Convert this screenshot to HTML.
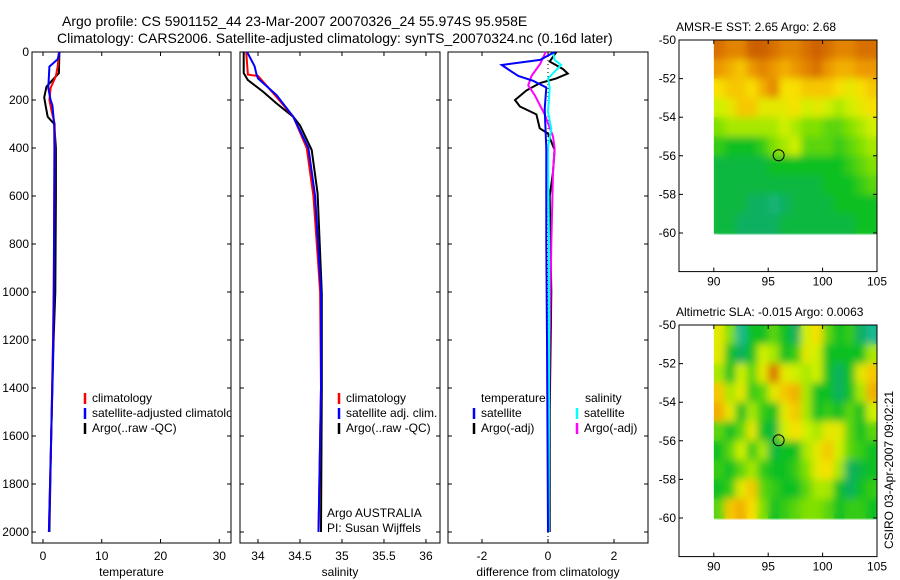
<!DOCTYPE html>
<html><head><meta charset="utf-8">
<style>
html,body{margin:0;padding:0;background:#fff;}
svg{display:block;font-family:"Liberation Sans",sans-serif;}
</style></head>
<body>
<svg id="chart" width="900" height="580" viewBox="0 0 900 580">
<defs>
<filter id="blur" x="-5%" y="-5%" width="110%" height="110%"><feGaussianBlur stdDeviation="4"/></filter>
</defs>
<text x="62" y="26" font-size="14">Argo profile: CS 5901152_44 23-Mar-2007 20070326_24 55.974S 95.958E</text>
<text x="57" y="43" font-size="14">Climatology: CARS2006. Satellite-adjusted climatology: synTS_20070324.nc (0.16d later)</text>
<text x="676" y="31" font-size="12">AMSR-E SST: 2.65 Argo: 2.68</text>
<text x="676" y="316" font-size="12">Altimetric SLA: -0.015 Argo: 0.0063</text>
<text transform="translate(893,549) rotate(-90)" x="0" y="0" font-size="12">CSIRO 03-Apr-2007 09:02:21</text>
<g id="g"></g>
</svg>
<script>
// ---- data ----
const depthTicks=[0,200,400,600,800,1000,1200,1400,1600,1800,2000];
const tempTicks=[0,10,20,30];
const salTicks=[34,34.5,35,35.5,36];
const salTickLabels=["34","34.5","35","35.5","36"];
const diffTicks=[-2,0,2];
const mapXTicks=[90,95,100,105];
const mapYTicks=[-50,-52,-54,-56,-58,-60];

const tClimD=[0,60,100,150,200,250,300,400,600,1000,1200,1600,2000];
const tClimV=[2.7,2.5,2.2,1.3,1.1,1.5,2.0,2.0,1.95,1.8,1.7,1.4,1.0];
const tSatD=[0,30,61,150,200,222,300,400,600,1000,1200,1600,2000];
const tSatV=[2.8,2.5,1.1,0.9,1.3,1.6,1.9,1.95,1.9,1.85,1.75,1.4,1.0];
const tArgoD=[0,88,144,189,230,270,300,400,600,1000,1200,1600,2000];
const tArgoV=[2.8,2.7,0.6,0.2,0.5,0.8,1.9,2.2,2.2,2.1,1.8,1.4,1.1];

const sClimD=[0,94,100,179,270,400,600,900,1000,1400,2000];
const sClimV=[33.86,33.88,34.0,34.2,34.42,34.58,34.66,34.72,34.74,34.75,34.72];
const sSatD=[0,59,90,110,179,270,400,600,1000,1400,2000];
const sSatV=[33.87,33.96,33.98,34.0,34.22,34.42,34.6,34.68,34.75,34.75,34.72];
const sArgoD=[0,88,117,165,214,270,306,408,589,1006,1400,2000];
const sArgoV=[33.83,33.83,33.88,34.06,34.22,34.42,34.5,34.64,34.71,34.76,34.76,34.75];

const dTSatD=[0,33,54,82,100,120,148,238,400,800,1200,2000];
const dTSatV=[0.2,-0.24,-1.4,-1.1,-0.9,-0.45,-0.05,-0.1,-0.05,-0.05,-0.03,0.0];
const dTArgoD=[0,40,71,90,110,130,160,200,227,260,318,340,408,500,600,1000,1500,2000];
const dTArgoV=[0.25,0.05,0.45,0.6,0.25,-0.25,-0.65,-1.0,-0.85,-0.35,-0.25,0.0,0.2,0.15,0.05,0.1,0.05,0.05];
const dSSatD=[0,33,54,82,110,150,250,320,400,800,1200,2000];
const dSSatV=[0.15,0.2,0.4,0.2,0.0,0.05,0.0,0.1,0.0,0.03,0.03,0.02];
const dSArgoD=[0,50,100,139,180,220,260,352,400,500,800,1200,2000];
const dSArgoV=[-0.07,-0.24,-0.5,-0.6,-0.4,-0.25,-0.1,0.15,0.2,0.15,0.1,0.05,0.0];

const sstGrid=[
[0.9,0.85,0.85,0.95,0.95,0.9,0.85,0.85,0.9,0.95,0.9,0.85,0.85,0.9,0.9],
[0.8,0.75,0.7,0.8,0.85,0.8,0.75,0.8,0.85,0.9,0.8,0.75,0.75,0.8,0.8],
[0.65,0.7,0.7,0.65,0.75,0.85,0.65,0.65,0.7,0.7,0.7,0.65,0.6,0.65,0.7],
[0.55,0.6,0.7,0.7,0.6,0.6,0.6,0.65,0.55,0.6,0.55,0.5,0.55,0.6,0.65],
[0.45,0.5,0.5,0.5,0.5,0.5,0.55,0.5,0.45,0.45,0.4,0.4,0.45,0.5,0.55],
[0.35,0.3,0.3,0.3,0.35,0.45,0.5,0.55,0.4,0.4,0.4,0.35,0.4,0.45,0.5],
[0.25,0.25,0.25,0.25,0.25,0.3,0.3,0.3,0.3,0.3,0.3,0.3,0.35,0.4,0.45],
[0.25,0.25,0.25,0.25,0.25,0.25,0.25,0.25,0.25,0.25,0.3,0.3,0.3,0.35,0.4],
[0.25,0.25,0.25,0.2,0.2,0.15,0.2,0.25,0.25,0.25,0.25,0.3,0.3,0.3,0.3],
[0.25,0.25,0.2,0.2,0.2,0.2,0.25,0.25,0.25,0.25,0.25,0.25,0.25,0.3,0.3]];
const slaGrid=[
[0.6,0.45,0.1,0.3,0.3,0.4,0.3,0.2,0.55,0.65,0.4,0.3,0.35,0.2,0.1],
[0.6,0.3,0.2,0.3,0.55,0.5,0.3,0.35,0.6,0.55,0.3,0.3,0.3,0.3,0.5],
[0.5,0.3,0.55,0.4,0.6,0.9,0.6,0.55,0.5,0.55,0.3,0.2,0.3,0.6,0.7],
[0.7,0.5,0.6,0.35,0.4,0.6,0.7,0.75,0.5,0.3,0.3,0.2,0.3,0.5,0.75],
[0.75,0.6,0.3,0.5,0.35,0.3,0.6,0.7,0.5,0.3,0.35,0.3,0.4,0.3,0.55],
[0.4,0.3,0.4,0.6,0.3,0.25,0.55,0.65,0.55,0.5,0.6,0.6,0.4,0.3,0.4],
[0.3,0.4,0.55,0.35,0.5,0.25,0.3,0.3,0.5,0.6,0.7,0.55,0.4,0.35,0.3],
[0.35,0.3,0.4,0.5,0.35,0.3,0.3,0.35,0.45,0.6,0.65,0.5,0.2,0.25,0.3],
[0.3,0.35,0.6,0.7,0.4,0.35,0.3,0.3,0.4,0.5,0.5,0.3,0.2,0.3,0.35],
[0.4,0.7,0.75,0.65,0.45,0.3,0.35,0.4,0.45,0.45,0.4,0.3,0.35,0.35,0.3]];
const floatLon=95.958, floatLat=-55.974;

// ---- helpers ----
const NS="http://www.w3.org/2000/svg";
const G=document.getElementById('g');
function mk(tag,attrs,parent){const e=document.createElementNS(NS,tag);for(const k in attrs)e.setAttribute(k,attrs[k]);(parent||G).appendChild(e);return e;}
const yTop=52, pxPerM=0.24;
const yD=d=>yTop+d*pxPerM;
const panels=[
 {name:'temperature',x0:32,x1:231,v0:-1.87,v1:32.0,ticks:tempTicks,labels:tempTicks.map(String),xlabel:'temperature'},
 {name:'salinity',x0:240,x1:440,v0:33.786,v1:36.167,ticks:salTicks,labels:salTickLabels,xlabel:'salinity'},
 {name:'difference',x0:448,x1:648,v0:-3.03,v1:3.03,ticks:diffTicks,labels:diffTicks.map(String),xlabel:'difference from climatology'}];
const yBot=543;
panels.forEach((p,i)=>{
 p.sx=v=>p.x0+(v-p.v0)/(p.v1-p.v0)*(p.x1-p.x0);
 const r=mk('rect',{x:p.x0,y:yTop,width:p.x1-p.x0,height:yBot-yTop,fill:'none',stroke:'#000','stroke-width':1});
 
 
 p.ticks.forEach((t,j)=>{
  const x=p.sx(t);
  const tk=mk('path',{d:`M${x} ${yTop}v4M${x} ${yBot}v-4`,stroke:'#000'});
  
  
  const tl=mk('text',{x:x,y:560,'font-size':12,'text-anchor':'middle'});
  tl.textContent=p.labels[j];
  
  
 });
 const xl=mk('text',{x:(p.x0+p.x1)/2,y:576,'font-size':12,'text-anchor':'middle'});
 xl.textContent=p.xlabel;
 
 
 depthTicks.forEach(d=>{
  const y=yD(d);
  const tk=mk('path',{d:`M${p.x0} ${y}h4M${p.x1} ${y}h-4`,stroke:'#000'});
  
  
  if(i===0){
   const tl=mk('text',{x:p.x0-3,y:y+4,'font-size':12,'text-anchor':'end'});
   tl.textContent=String(d);
   
   
  }
 });
});
function line(p,D,V,color,name){
 const pts=D.map((d,k)=>p.sx(V[k]).toFixed(1)+','+yD(d).toFixed(1)).join(' ');
 const l=mk('polyline',{points:pts,fill:'none',stroke:color,'stroke-width':2});
 
 
}
const [P1,P2,P3]=panels;
const zl=mk('line',{x1:P3.sx(0),x2:P3.sx(0),y1:yTop,y2:yBot,stroke:'#000','stroke-dasharray':'1,3'});


line(P1,tArgoD,tArgoV,'#000','temp-argo-line');
line(P1,tClimD,tClimV,'#f00','temp-climatology-line');
line(P1,tSatD,tSatV,'#00f','temp-satellite-line');
line(P2,sArgoD,sArgoV,'#000','sal-argo-line');
line(P2,sClimD,sClimV,'#f00','sal-climatology-line');
line(P2,sSatD,sSatV,'#00f','sal-satellite-line');
line(P3,dTArgoD,dTArgoV,'#000','diff-temp-argo-line');
line(P3,dSArgoD,dSArgoV,'#f0f','diff-sal-argo-line');
line(P3,dSSatD,dSSatV,'#0ff','diff-sal-satellite-line');
line(P3,dTSatD,dTSatV,'#00f','diff-temp-satellite-line');

// legends
const defs=document.querySelector('defs');
const cp=mk('clipPath',{id:'clip1'},defs);
mk('rect',{x:32,y:0,width:199,height:580},cp);
function leg(x,y,color,label,name,clipW){
 const m=mk('line',{x1:x,x2:x,y1:y-9,y2:y+2,stroke:color,'stroke-width':2.5});
 
 
 const t=mk('text',{x:x+7,y:y,'font-size':12});
 t.textContent=label;
 
 
 if(clipW){t.setAttribute('clip-path','url(#clip1)');}
}
leg(85,402,'#f00','climatology','temp-legend-climatology');
leg(85,417,'#00f','satellite-adjusted climatology','temp-legend-satellite',true);
leg(85,432,'#000','Argo(..raw -QC)','temp-legend-argo');
leg(339,402,'#f00','climatology','sal-legend-climatology');
leg(339,417,'#00f','satellite adj. clim.','sal-legend-satellite');
leg(339,432,'#000','Argo(..raw -QC)','sal-legend-argo');
const lt=mk('text',{x:481,y:402,'font-size':12});lt.textContent='temperature';


const ls=mk('text',{x:585,y:402,'font-size':12});ls.textContent='salinity';


leg(474,417,'#00f','satellite','diff-legend-temp-satellite');
leg(474,432,'#000','Argo(-adj)','diff-legend-temp-argo');
leg(577,417,'#0ff','satellite','diff-legend-sal-satellite');
leg(577,432,'#f0f','Argo(-adj)','diff-legend-sal-argo');
const a1=mk('text',{x:327,y:517,'font-size':12});a1.textContent='Argo AUSTRALIA';


const a2=mk('text',{x:327,y:532,'font-size':12});a2.textContent='PI: Susan Wijffels';



// maps
const stops=[[0,[28,192,192]],[0.2,[16,176,96]],[0.3,[16,192,32]],[0.45,[128,224,0]],[0.55,[208,240,0]],[0.65,[248,224,0]],[0.78,[240,160,0]],[0.9,[216,112,0]],[1,[192,80,0]]];
function cmap(v){for(let k=1;k<stops.length;k++){if(v<=stops[k][0]){const a=stops[k-1],b=stops[k],t=(v-a[0])/(b[0]-a[0]);const c=a[1].map((q,n)=>Math.round(q+(b[1][n]-q)*t));return `rgb(${c})`;}}return 'rgb(192,80,0)';}
function drawMap(top,grid,name){
 const x0=679,x1=877,lon0=86.8,lon1=105;
 const lat0=-50,ppd=19.3,bottom=top+12*ppd;
 const sx=l=>x0+(l-lon0)/(lon1-lon0)*(x1-x0);
 const sy=l=>top+(lat0-l)*ppd;
 const cid='clip-'+name;
 const c2=mk('clipPath',{id:cid},defs);
 mk('rect',{x:sx(90),y:sy(-50),width:sx(105)-sx(90),height:sy(-60.1)-sy(-50)},c2);
 const base=mk('g',{'clip-path':`url(#${cid})`});
 
 
 const smooth=mk('g',{filter:'url(#blur)'},mk('g',{'clip-path':`url(#${cid})`}));
 [base,smooth].forEach(par=>grid.forEach((row,ri)=>row.forEach((v,ci)=>{
  const c=mk('rect',{x:sx(90+ci).toFixed(1),y:sy(-50-ri).toFixed(1),width:(sx(91)-sx(90)+0.6).toFixed(1),height:(ppd+0.6).toFixed(1),fill:cmap(v)},par);
  
  
 })));
 const f=mk('rect',{x:x0,y:top,width:x1-x0,height:bottom-top,fill:'none',stroke:'#000'});
 
 
 mapXTicks.forEach(t=>{
  const x=sx(t);
  const tk=mk('path',{d:`M${x} ${bottom}v-4M${x} ${top}v4`,stroke:'#000'});
  
  
  const tl=mk('text',{x:x,y:bottom+14,'font-size':12,'text-anchor':'middle'});tl.textContent=String(t);
  
  
 });
 mapYTicks.forEach(t=>{
  const y=sy(t);
  const tk=mk('path',{d:`M${x0} ${y}h4M${x1} ${y}h-4`,stroke:'#000'});
  
  
  const tl=mk('text',{x:x0-3,y:y+4,'font-size':12,'text-anchor':'end'});tl.textContent=String(t);
  
  
 });
 const m=mk('circle',{cx:sx(floatLon),cy:sy(floatLat),r:5.5,fill:'none',stroke:'#000','stroke-width':1});
 
 
}
drawMap(40,sstGrid,'sst-map');
drawMap(325,slaGrid,'sla-map');
</script>
</body></html>
